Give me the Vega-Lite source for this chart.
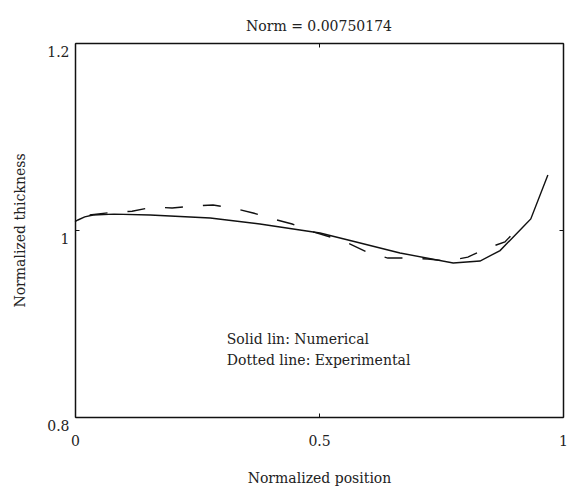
{
  "$schema": "https://vega.github.io/schema/vega-lite/v6.json",
  "width": 488,
  "height": 374,
  "autosize": "none",
  "padding": {"left": 75, "top": 43, "right": 5, "bottom": 70},
  "title": {"text": "Norm = 0.00750174", "font": "DejaVu Serif", "fontSize": 14, "fontWeight": "normal", "color": "#222", "offset": 9, "anchor": "middle"},
  "config": {
    "view": {"stroke": null},
    "axis": {
      "domainColor": "#111", "domainWidth": 1.5,
      "tickColor": "#111", "tickWidth": 1, "tickSize": -4,
      "grid": false,
      "labelFont": "DejaVu Serif", "labelFontSize": 14, "labelColor": "#222",
      "titleFont": "DejaVu Serif", "titleFontSize": 14, "titleFontWeight": "normal", "titleColor": "#222"
    }
  },
  "datasets": {
    "numerical": [
      {"position": 0, "thickness": 1.009},
      {"position": 0.006, "thickness": 1.0107},
      {"position": 0.02, "thickness": 1.014},
      {"position": 0.037, "thickness": 1.016},
      {"position": 0.08, "thickness": 1.017},
      {"position": 0.154, "thickness": 1.016},
      {"position": 0.277, "thickness": 1.0128},
      {"position": 0.379, "thickness": 1.0064},
      {"position": 0.461, "thickness": 1.0},
      {"position": 0.502, "thickness": 0.9968},
      {"position": 0.57, "thickness": 0.988},
      {"position": 0.666, "thickness": 0.9754},
      {"position": 0.775, "thickness": 0.9647},
      {"position": 0.83, "thickness": 0.9668},
      {"position": 0.871, "thickness": 0.978},
      {"position": 0.918, "thickness": 1.0032},
      {"position": 0.934, "thickness": 1.0118},
      {"position": 0.969, "thickness": 1.0588}
    ],
    "experimental": [
      {"position": 0.03, "thickness": 1.016},
      {"position": 0.078, "thickness": 1.019},
      {"position": 0.117, "thickness": 1.02},
      {"position": 0.16, "thickness": 1.0246},
      {"position": 0.199, "thickness": 1.0235},
      {"position": 0.242, "thickness": 1.0257},
      {"position": 0.283, "thickness": 1.0267},
      {"position": 0.324, "thickness": 1.0235},
      {"position": 0.365, "thickness": 1.0182},
      {"position": 0.406, "thickness": 1.0118},
      {"position": 0.445, "thickness": 1.0064},
      {"position": 0.482, "thickness": 0.999},
      {"position": 0.523, "thickness": 0.9925},
      {"position": 0.564, "thickness": 0.985},
      {"position": 0.598, "thickness": 0.9765},
      {"position": 0.641, "thickness": 0.97},
      {"position": 0.68, "thickness": 0.97},
      {"position": 0.723, "thickness": 0.969},
      {"position": 0.762, "thickness": 0.9668},
      {"position": 0.805, "thickness": 0.971},
      {"position": 0.84, "thickness": 0.9797},
      {"position": 0.881, "thickness": 0.9872},
      {"position": 0.906, "thickness": 1.001}
    ],
    "notes": [
      {"position": 0.311, "thickness": 0.882, "label": "Solid lin: Numerical"},
      {"position": 0.311, "thickness": 0.8595, "label": "Dotted line: Experimental"}
    ]
  },
  "layer": [
    {
      "data": {"name": "numerical"},
      "mark": {"type": "line", "color": "#111", "strokeWidth": 1.4},
      "encoding": {
        "x": {"field": "position", "type": "quantitative", "scale": {"domain": [0, 1], "nice": false, "zero": false},
              "axis": {"orient": "bottom", "values": [0, 0.5, 1], "title": "Normalized position", "labelPadding": 21, "titlePadding": 23, "format": "~g", "labelFlush": false}},
        "y": {"field": "thickness", "type": "quantitative", "scale": {"domain": [0.8, 1.2], "nice": false, "zero": false},
              "axis": {"orient": "left", "values": [0.8, 1, 1.2], "title": "Normalized thickness", "labelPadding": 10, "labelOffset": 9, "titlePadding": 19, "format": "~g", "labelFlush": false}}
      }
    },
    {
      "data": {"name": "experimental"},
      "mark": {"type": "line", "color": "#111", "strokeWidth": 1.4, "strokeDash": [18, 20]},
      "encoding": {
        "x": {"field": "position", "type": "quantitative",
              "axis": {"orient": "top", "values": [0, 0.5, 1], "labels": false, "title": null}},
        "y": {"field": "thickness", "type": "quantitative",
              "axis": {"orient": "right", "values": [0.8, 1, 1.2], "labels": false, "title": null}}
      }
    },
    {
      "data": {"name": "notes"},
      "mark": {"type": "text", "align": "left", "baseline": "middle", "font": "DejaVu Serif", "fontSize": 14, "color": "#222"},
      "encoding": {
        "x": {"field": "position", "type": "quantitative", "axis": null},
        "y": {"field": "thickness", "type": "quantitative", "axis": null},
        "text": {"field": "label"}
      }
    }
  ],
  "resolve": {"axis": {"x": "independent", "y": "independent"}}
}
